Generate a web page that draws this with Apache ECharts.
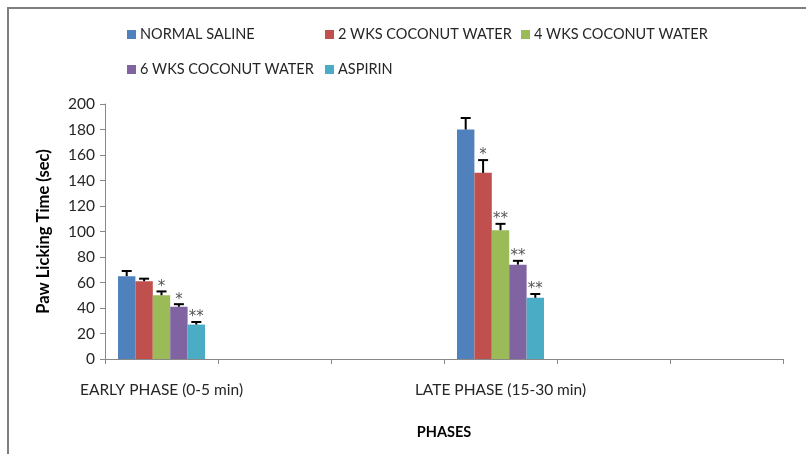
<!DOCTYPE html>
<html>
<head>
<meta charset="utf-8">
<script src="https://cdn.jsdelivr.net/npm/echarts@6/dist/echarts.min.js"></script>
<style>html,body{margin:0;padding:0;background:#fff;}#c{width:806px;height:454px;}</style>
</head>
<body>
<div id="c"></div>
<script>
// Category slots on the x axis (the original chart has 6 slots, two labelled)
var categories = ['EARLY PHASE (0-5 min)', '', '', 'LATE PHASE (15-30 min)', '', ''];
var seriesNames = ['NORMAL SALINE', '2 WKS COCONUT WATER', '4 WKS COCONUT WATER', '6 WKS COCONUT WATER', 'ASPIRIN'];
// Mean values (sec)
var normalSaline = [65, null, null, 180, null, null];
var wks2 = [61, null, null, 146, null, null];
var wks4 = [50, null, null, 101, null, null];
var wks6 = [41, null, null, 74, null, null];
var aspirin = [27, null, null, 48, null, null];
// Error (upper) values
var errNormalSaline = [4, null, null, 9, null, null];
var errWks2 = [2, null, null, 10, null, null];
var errWks4 = [3, null, null, 5, null, null];
var errWks6 = [2, null, null, 3, null, null];
var errAspirin = [2, null, null, 3, null, null];
// Significance marks
var sigNormalSaline = ['', '', '', '', '', ''];
var sigWks2 = ['', '', '', '*', '', ''];
var sigWks4 = ['*', '', '', '**', '', ''];
var sigWks6 = ['*', '', '', '**', '', ''];
var sigAspirin = ['**', '', '', '**', '', ''];
// Y axis ticks
var yTicks = [0, 20, 40, 60, 80, 100, 120, 140, 160, 180, 200];

var colors = ['#4F81BD', '#C0504D', '#9BBB59', '#8064A2', '#4BACC6'];
var values = [normalSaline, wks2, wks4, wks6, aspirin];
var errs = [errNormalSaline, errWks2, errWks4, errWks6, errAspirin];
var sigs = [sigNormalSaline, sigWks2, sigWks4, sigWks6, sigAspirin];
var GAP = 0.23;
var FONT = 'Lato';

var series = [];
values.forEach(function (v, i) {
  series.push({
    name: seriesNames[i], type: 'bar', data: v,
    barGap: '0%', barCategoryGap: (GAP * 100) + '%',
    itemStyle: { color: colors[i] }, z: 2
  });
});
values.forEach(function (v, i) {
  var d = [];
  v.forEach(function (val, k) { if (val != null) d.push([k, val, errs[i][k], sigs[i][k]]); });
  series.push({
    type: 'custom', data: d, z: 5, silent: true,
    renderItem: function (params, api) {
      var k = api.value(0), val = api.value(1), e = api.value(2);
      var sig = d[params.dataIndex][3];
      var c = api.coord([k, val]);
      var ct = api.coord([k, val + e]);
      var band = api.size([1, 0])[0];
      var tot = band * (1 - GAP);
      var bw = tot / seriesNames.length;
      var x = c[0] - tot / 2 + bw * (i + 0.5);
      var children = [
        { type: 'line', shape: { x1: x, y1: c[1], x2: x, y2: ct[1] }, style: { stroke: '#000', lineWidth: 2 } },
        { type: 'line', shape: { x1: x - 5, y1: ct[1], x2: x + 5, y2: ct[1] }, style: { stroke: '#000', lineWidth: 2 } }
      ];
      if (sig) {
        children.push({ type: 'text', style: { text: sig, x: x, y: ct[1] + 3, align: 'center', verticalAlign: 'bottom', font: '15px "DejaVu Sans"', fill: '#555' } });
      }
      return { type: 'group', children: children };
    }
  });
});

var legendPos = [[127, 27], [325, 27], [521, 27], [127, 62], [325, 62]];
var legends = seriesNames.map(function (n, i) {
  return {
    data: [n], left: legendPos[i][0], top: legendPos[i][1], icon: 'rect',
    itemWidth: 9, itemHeight: 9, itemGap: 5, selectedMode: false, padding: 0,
    textStyle: { fontFamily: FONT, fontSize: 14.5, color: '#262626', padding: [0, 0, 0, -1] }
  };
});

var chart = echarts.init(document.getElementById('c'), null, { renderer: 'canvas' });
chart.setOption({
  animation: false,
  color: colors,
  legend: legends,
  graphic: [{ type: 'rect', shape: { x: 8, y: 8, width: 1000, height: 1000 }, style: { fill: 'none', stroke: '#7f7f7f', lineWidth: 2 }, z: 100 }],
  grid: { left: 105, right: 23, top: 104, bottom: 95 },
  xAxis: {
    type: 'category', data: categories,
    name: 'PHASES', nameLocation: 'middle', nameGap: 66,
    nameTextStyle: { fontFamily: FONT, fontSize: 14.5, fontWeight: 'bold', color: '#000' },
    axisLine: { lineStyle: { color: '#888', width: 1 } },
    axisTick: { show: true, interval: 0, length: 5, lineStyle: { color: '#888' } },
    axisLabel: { interval: 0, margin: 23, fontFamily: FONT, fontSize: 15.5, color: '#262626' }
  },
  yAxis: {
    type: 'value', min: yTicks[0], max: yTicks[yTicks.length - 1], interval: yTicks[1] - yTicks[0],
    name: 'Paw Licking Time (sec)', nameLocation: 'middle', nameGap: 53,
    nameTextStyle: { fontFamily: FONT, fontSize: 16.5, fontWeight: 'bold', color: '#000' },
    axisLine: { show: true, lineStyle: { color: '#888', width: 1 } },
    axisTick: { show: true, length: 5, lineStyle: { color: '#888' } },
    splitLine: { show: false },
    axisLabel: { margin: 10, fontFamily: FONT, fontSize: 15.5, color: '#262626' }
  },
  series: series
});
</script>
</body>
</html>
